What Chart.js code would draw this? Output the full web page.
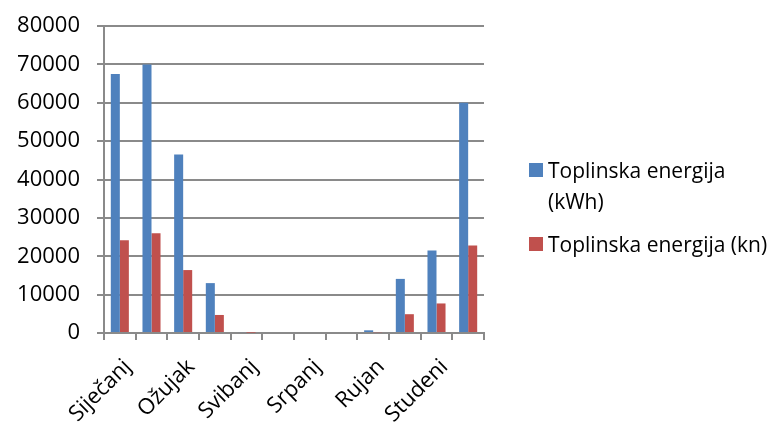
<!DOCTYPE html>
<html>
<head>
<meta charset="utf-8">
<script src="https://cdn.jsdelivr.net/npm/chart.js@4"></script>
<style>
  html, body { margin: 0; padding: 0; background: #fff; }
  #wrap { position: relative; width: 770px; height: 424px; }
  canvas { display: block; }
  #legend { position: absolute; left: 529px; top: 155px; width: 241px;
            font-family: "Open Sans", sans-serif; font-size: 21px; line-height: 31px; color: #000; }
  .item { display: flex; align-items: flex-start; margin-bottom: 12px; }
  .box { width: 14px; height: 14px; flex: none; margin: 8px 5px 0 0; }
</style>
</head>
<body>
<div id="wrap">
  <canvas id="energyChart" width="770" height="424"></canvas>
  <div id="legend"></div>
</div>
<script>
// Mjeseci i potrošnja toplinske energije
const months = ["Siječanj", "Veljača", "Ožujak", "Travanj", "Svibanj", "Lipanj",
                "Srpanj", "Kolovoz", "Rujan", "Listopad", "Studeni", "Prosinac"];
const energyKwh = [67500, 70000, 46500, 13000, 250, 0, 0, 0, 700, 14100, 21500, 60000];
const energyKn  = [24200, 26000, 16400, 4700, 100, 0, 0, 0, 200, 4900, 7700, 22800];
const yTicks = [0, 10000, 20000, 30000, 40000, 50000, 60000, 70000, 80000];

const seriesNames = ["Toplinska energija (kWh)", "Toplinska energija (kn)"];
const seriesColors = ["#4F81BD", "#C0504D"];

const gridColor = '#8a8a8a';
const fontFamily = '"Open Sans", sans-serif';

const ctx = document.getElementById('energyChart');
const chart = new Chart(ctx, {
    type: 'bar',
    data: {
        labels: months,
        datasets: [
            { label: seriesNames[0], data: energyKwh, backgroundColor: seriesColors[0] },
            { label: seriesNames[1], data: energyKn, backgroundColor: seriesColors[1] }
        ]
    },
    options: {
        responsive: false,
        animation: false,
        layout: { padding: { top: 26, right: 286, left: 0, bottom: 0 } },
        datasets: { bar: { categoryPercentage: 0.57, barPercentage: 1.0 } },
        plugins: { legend: { display: false }, tooltip: { enabled: false } },
        scales: {
            x: {
                grid: { drawOnChartArea: false, drawTicks: true, tickLength: 7, color: gridColor, lineWidth: 2, offset: true },
                border: { color: gridColor, width: 2 },
                ticks: {
                    autoSkip: false,
                    maxRotation: 45, minRotation: 45,
                    padding: 14,
                    labelOffset: 8,
                    color: '#000',
                    font: { family: fontFamily, size: 22 },
                    callback: (v, i) => i % 2 === 0 ? months[i] : ''
                },
                afterFit: s => { s.height = 91; }
            },
            y: {
                min: 0, max: 80000,
                afterBuildTicks: s => { s.ticks = yTicks.map(v => ({ value: v })); },
                grid: { color: gridColor, lineWidth: 2, tickLength: 7 },
                border: { color: gridColor, width: 2 },
                ticks: {
                    padding: 17, color: '#000',
                    font: { family: fontFamily, size: 22 },
                    callback: v => String(v)
                },
                // širina osi fiksna, bez dodatnog razmaka iznad/ispod
                afterFit: s => { s.width = 104; s.paddingTop = 0; s.paddingBottom = 0; }
            }
        }
    }
});

// Legenda s prelamanjem teksta
const legend = document.getElementById('legend');
chart.data.datasets.forEach(ds => {
    const item = document.createElement('div');
    item.className = 'item';
    const box = document.createElement('span');
    box.className = 'box';
    box.style.background = ds.backgroundColor;
    const text = document.createElement('span');
    text.textContent = ds.label;
    item.appendChild(box);
    item.appendChild(text);
    legend.appendChild(item);
});
</script>
</body>
</html>
